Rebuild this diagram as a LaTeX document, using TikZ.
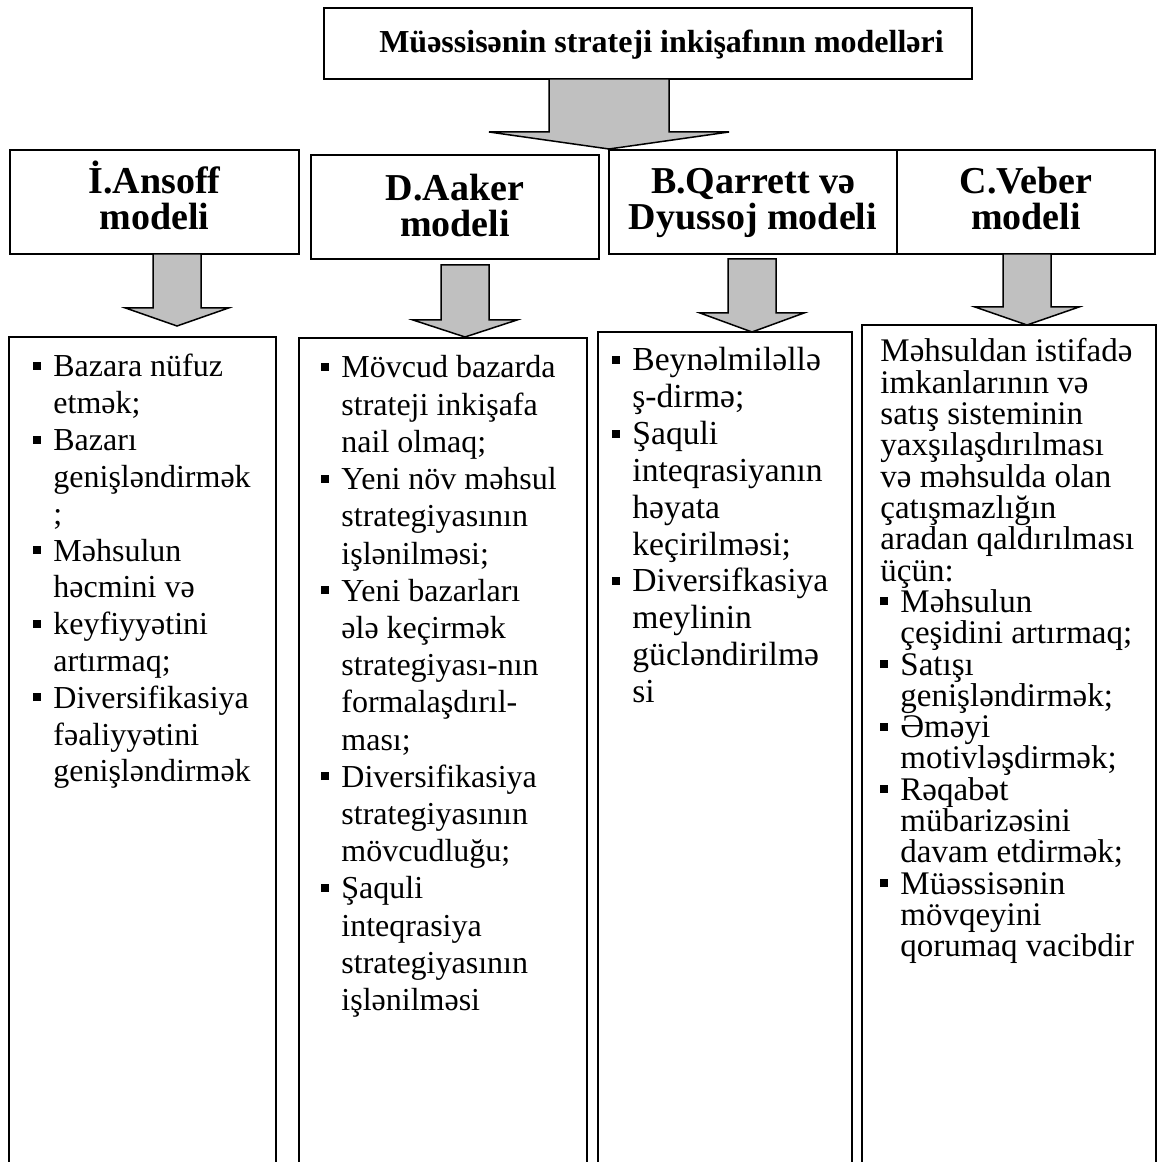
\documentclass[tikz,border=0pt]{standalone}
\usepackage{fontspec}
\setmainfont{Liberation Serif}
\definecolor{arrowgray}{HTML}{C0C0C0}
% square list marker and the matching hanging indent
\newcommand\bul{\makebox[10bp][l]{\rule[3.5bp]{4bp}{4bp}}}
\newcommand\ind{\hspace*{10bp}}
\newcommand\titlefont{\fontsize{16bp}{18.5bp}\selectfont\bfseries}
\newcommand\hdrfont{\fontsize{19bp}{18bp}\selectfont\bfseries}
\newcommand\bodyfont{\fontsize{16bp}{18.4bp}\selectfont}
\newcommand\widefont{\fontsize{16bp}{18.6bp}\selectfont}
\newcommand\midfont{\fontsize{16.8bp}{18.4bp}\selectfont}
\newcommand\tightfont{\fontsize{16.5bp}{15.65bp}\selectfont}
% block arrow: centre x, half shaft, top y, head y, half head, tip y
\newcommand\blockarrow[6]{%
  \draw[arr] ({#1-#2},#3) -- ({#1+#2},#3) -- ({#1+#2},#4) -- ({#1+#5},#4)
    -- (#1,#6) -- ({#1-#5},#4) -- ({#1-#2},#4) -- cycle;}
\begin{document}
\begin{tikzpicture}[x=0.5bp,y=-0.5bp,
  hdr/.style={draw, line width=1bp, inner sep=0pt, minimum height=52bp},
  htxt/.style={anchor=base, inner sep=0pt},
  titlebox/.style={draw, line width=1bp, inner sep=0pt, minimum width=324bp, minimum height=35.5bp},
  cbox/.style={draw, line width=0.7bp},
  arr/.style={draw, line width=0.75bp, fill=arrowgray, line join=miter},
  body/.style={anchor=base west, inner sep=0pt}]
\useasboundingbox (0,0) rectangle (1158,1162);

% title
\node[titlebox] (titleB) at (648,43.5) {};
\node[htxt, font=\titlefont] (title) at (661.5,53) {Müəssisənin strateji inkişafının modelləri};

% model headers
\node[hdr, minimum width=144.5bp] (ansoffH) at (154.5,202) {};
\node[hdr, minimum width=144bp] (aakerH) at (455,207) {};
\node[hdr, minimum width=144bp] (qarrettH) at (753,202) {};
\node[hdr, minimum width=129bp] (veberH) at (1026,202) {};
\node[htxt] (ansoffL) at (154.5,194) {\parbox[t]{140bp}{\hdrfont\centering İ.Ansoff\\modeli}};
\node[htxt] (aakerL) at (455,201) {\parbox[t]{140bp}{\hdrfont\centering D.Aaker\\modeli}};
\node[htxt] (qarrettL) at (753,194) {\parbox[t]{140bp}{\hdrfont\centering B.Qarrett və\\Dyussoj modeli}};
\node[htxt] (veberL) at (1026,194) {\parbox[t]{125bp}{\hdrfont\centering C.Veber\\modeli}};

% content frames, open at the bottom
\draw[cbox] (9,1162) |- (276,337) -- (276,1162);
\draw[cbox] (299,1162) |- (587,338) -- (587,1162);
\draw[cbox] (598,1162) |- (852,332) -- (852,1162);
\draw[cbox] (862,1162) |- (1156,325) -- (1156,1162);

% arrows
\blockarrow{609}{60}{79}{132}{120}{149}
\blockarrow{177}{24}{254}{308}{51.5}{326}
\blockarrow{465}{24}{265}{320}{52}{337}
\blockarrow{752}{24}{259}{313}{52}{332}
\blockarrow{1027}{24}{254}{307}{52}{325}

% texts
\node[body] (ansoffT) at (33,377) {\parbox[t]{140bp}{\bodyfont\raggedright
\bul Bazara nüfuz\\
\ind etmək;\\
\bul Bazarı\\
\ind genişləndirmək\\
\ind ;\\
\bul Məhsulun\\
\ind həcmini və\\
\bul keyfiyyətini\\
\ind artırmaq;\\
\bul Diversifikasiya\\
\ind fəaliyyətini\\
\ind genişləndirmək}};

\node[body] (aakerT) at (321,378) {\parbox[t]{140bp}{\widefont\raggedright
\bul Mövcud bazarda\\
\ind strateji inkişafa\\
\ind nail olmaq;\\
\bul Yeni növ məhsul\\
\ind strategiyasının\\
\ind işlənilməsi;\\
\bul Yeni bazarları\\
\ind ələ keçirmək\\
\ind strategiyası-nın\\
\ind formalaşdırıl-\\
\ind ması;\\
\bul Diversifikasiya\\
\ind strategiyasının\\
\ind mövcudluğu;\\
\bul Şaquli\\
\ind inteqrasiya\\
\ind strategiyasının\\
\ind işlənilməsi}};

\node[body] (qarrettT) at (612,371) {\parbox[t]{140bp}{\midfont\raggedright
\bul Beynəlmiləllə\\
\ind ş-dirmə;\\
\bul Şaquli\\
\ind inteqrasiyanın\\
\ind həyata\\
\ind keçirilməsi;\\
\bul Diversifkasiya\\
\ind meylinin\\
\ind gücləndirilmə\\
\ind si}};

\node[body] (veberT) at (880,362) {\parbox[t]{150bp}{\tightfont\raggedright
Məhsuldan istifadə\\
imkanlarının və\\
satış sisteminin\\
yaxşılaşdırılması\\
və məhsulda olan\\
çatışmazlığın\\
aradan qaldırılması\\
üçün:\\
\bul Məhsulun\\
\ind çeşidini artırmaq;\\
\bul Satışı\\
\ind genişləndirmək;\\
\bul Əməyi\\
\ind motivləşdirmək;\\
\bul Rəqabət\\
\ind mübarizəsini\\
\ind davam etdirmək;\\
\bul Müəssisənin\\
\ind mövqeyini\\
\ind qorumaq vacibdir}};
\end{tikzpicture}
\end{document}
